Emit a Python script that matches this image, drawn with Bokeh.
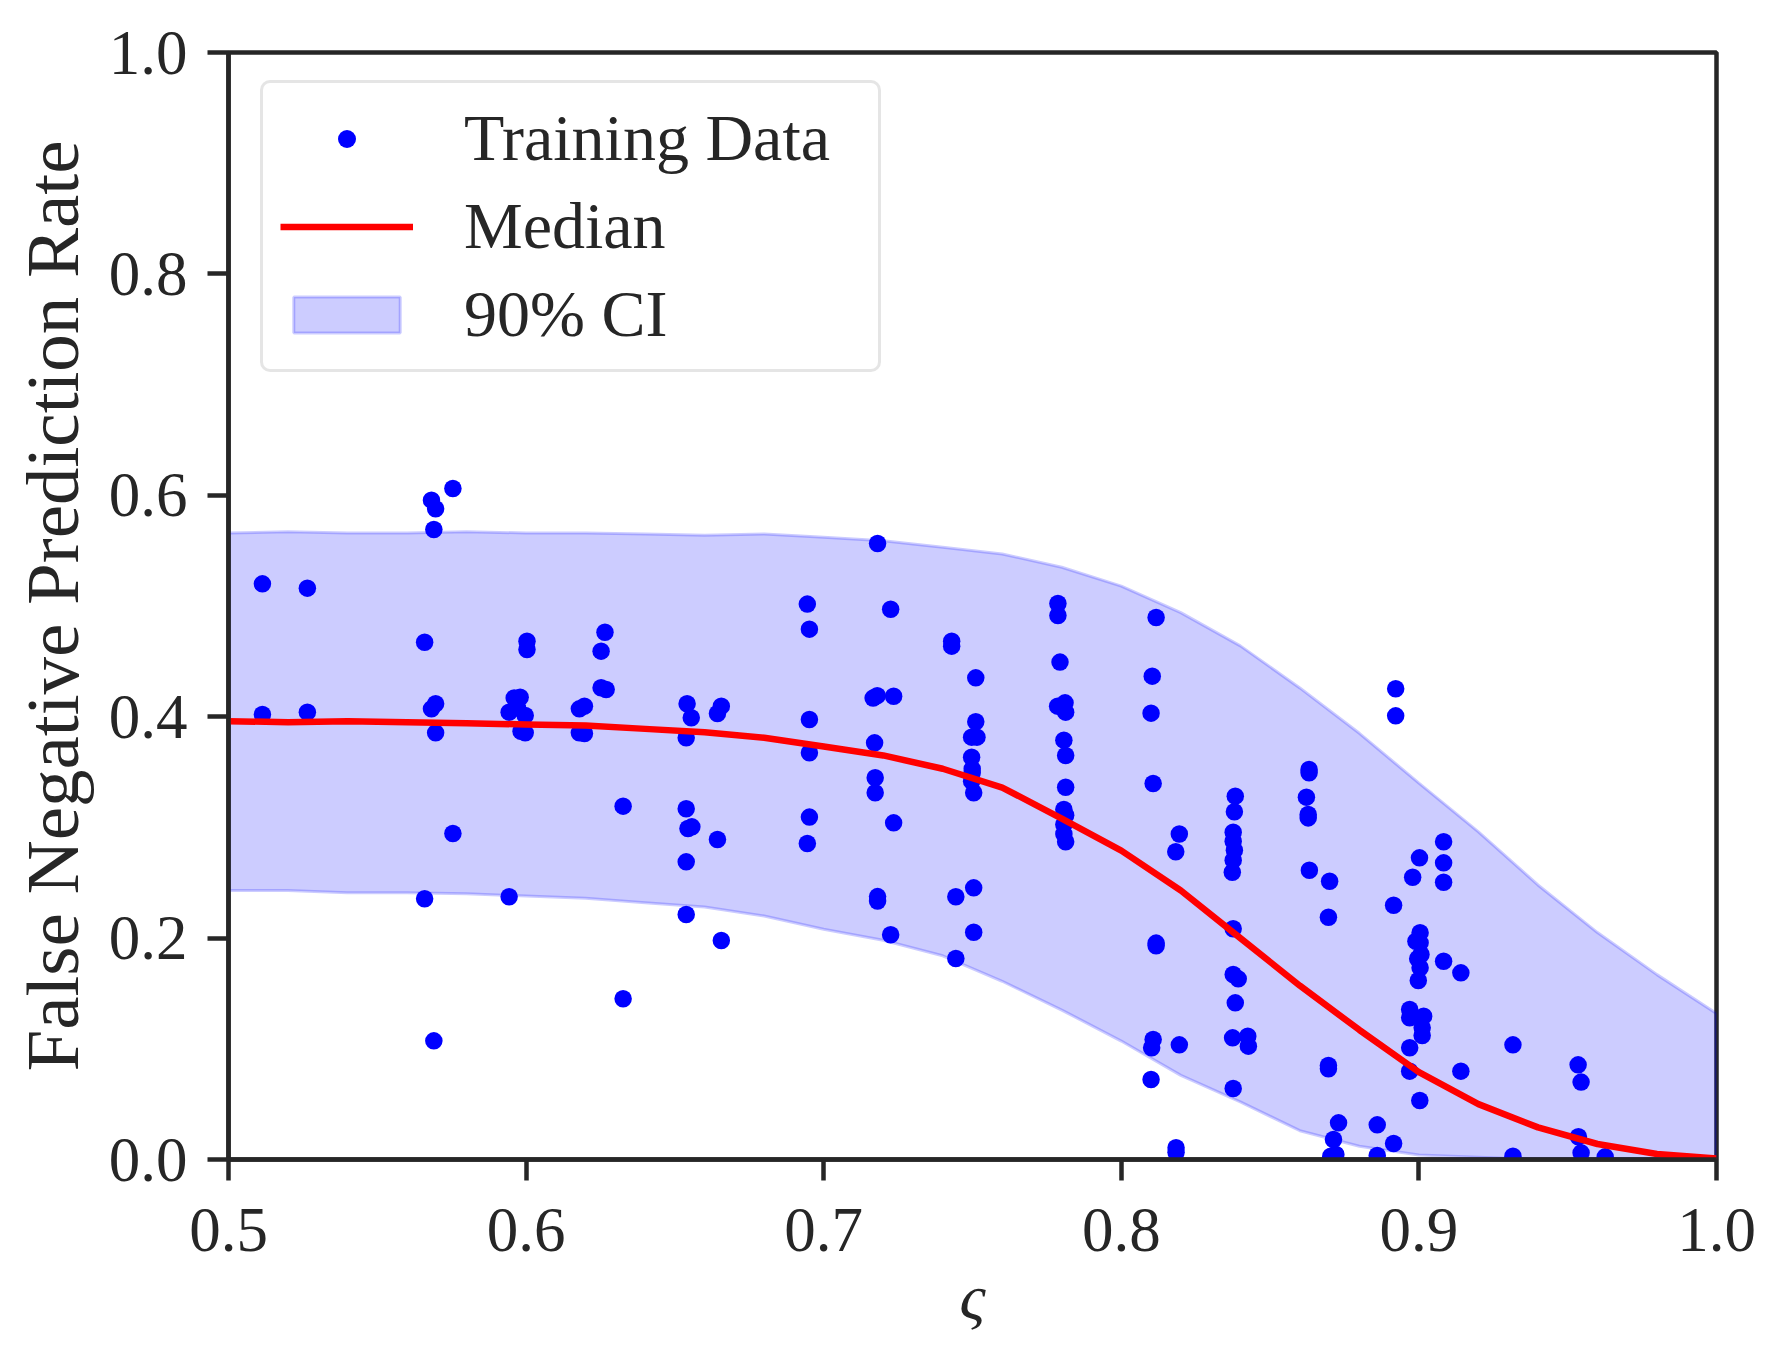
from bokeh.plotting import figure
from bokeh.models import Range1d, FixedTicker, Legend, LegendItem
from bokeh.embed import file_html
from bokeh.resources import INLINE

FONT = "Liberation Serif"
INK = "#262626"

# ---- ticks ----
x_ticks = [0.5, 0.6, 0.7, 0.8, 0.9, 1.0]
x_tick_labels = ["0.5", "0.6", "0.7", "0.8", "0.9", "1.0"]
y_ticks = [0.0, 0.2, 0.4, 0.6, 0.8, 1.0]
y_tick_labels = ["0.0", "0.2", "0.4", "0.6", "0.8", "1.0"]

# ---- model curves ----
grid_x = [0.50, 0.52, 0.54, 0.56, 0.58, 0.60, 0.62, 0.64, 0.66, 0.68, 0.70, 0.72, 0.74,
          0.76, 0.78, 0.80, 0.82, 0.84, 0.86, 0.88, 0.90, 0.92, 0.94, 0.96, 0.98, 1.00]
median_y = [0.396, 0.395, 0.396, 0.395, 0.394, 0.393, 0.392, 0.389, 0.386, 0.381, 0.373, 0.365, 0.353,
            0.336, 0.308, 0.279, 0.243, 0.200, 0.157, 0.117, 0.079, 0.050, 0.029, 0.014, 0.005, 0.001]
ci_lower = [0.243, 0.243, 0.241, 0.241, 0.240, 0.238, 0.236, 0.232, 0.228, 0.220, 0.208, 0.198, 0.184,
            0.161, 0.135, 0.107, 0.076, 0.052, 0.026, 0.012, 0.004, 0.002, 0.0, 0.0, 0.0, 0.0]
ci_upper = [0.566, 0.567, 0.566, 0.566, 0.567, 0.566, 0.566, 0.565, 0.564, 0.565, 0.562, 0.559, 0.553,
            0.547, 0.535, 0.518, 0.494, 0.464, 0.426, 0.385, 0.340, 0.296, 0.248, 0.205, 0.167, 0.132]

# ---- training data ----
train_x = [
    0.5114, 0.5265, 0.5114, 0.5265, 0.5659, 0.5659, 0.5682, 0.5696, 0.5690, 0.5754,
    0.5696, 0.5682, 0.5696, 0.5754, 0.5690, 0.5943, 0.5960, 0.5980, 0.5943, 0.5971,
    0.5997, 0.5983, 0.5997, 0.6003, 0.6003, 0.6196, 0.6179, 0.6179, 0.6196, 0.6265,
    0.6252, 0.6252, 0.6269, 0.6326, 0.6326, 0.6541, 0.6555, 0.6538, 0.6538, 0.6544,
    0.6557, 0.6538, 0.6538, 0.6643, 0.6656, 0.6643, 0.6656,
    0.6945, 0.6952, 0.6952, 0.6952, 0.6952, 0.6945, 0.7181, 0.7166, 0.7180, 0.7171,
    0.7173, 0.7173, 0.7181, 0.7181, 0.7225, 0.7235, 0.7235, 0.7225, 0.7430, 0.7430,
    0.7444, 0.7444, 0.7511, 0.7511, 0.7497, 0.7515, 0.7497, 0.7499, 0.7499, 0.7497,
    0.7504, 0.7504, 0.7504, 0.7787, 0.7787, 0.7794, 0.7786, 0.7811, 0.7813, 0.7807,
    0.7813, 0.7813, 0.7807, 0.7813, 0.7807, 0.7807, 0.7813, 0.8117, 0.8104, 0.8100,
    0.8107, 0.8195, 0.8183, 0.8117, 0.8117, 0.8107, 0.8102, 0.8195, 0.8100, 0.8184,
    0.8184,
    0.8383, 0.8380, 0.8376, 0.8376, 0.8380, 0.8376, 0.8373, 0.8376, 0.8376, 0.8393,
    0.8383, 0.8374, 0.8425, 0.8427, 0.8376, 0.8631, 0.8631, 0.8622, 0.8628, 0.8628,
    0.8632, 0.8700, 0.8696, 0.8696, 0.8696, 0.8730, 0.8713, 0.8721, 0.8704, 0.8860,
    0.8860, 0.8915, 0.8915, 0.8922, 0.8922, 0.8979, 0.9002, 0.9004, 0.8990, 0.9004,
    0.9007, 0.8996, 0.9004, 0.8998, 0.8969, 0.8969, 0.9016, 0.9011, 0.9011, 0.8969,
    0.8969, 0.9003, 0.9083, 0.9083, 0.9083, 0.9083, 0.9141, 0.9141, 0.9316, 0.9316,
    0.9535, 0.9545, 0.9536, 0.9545, 0.9626,
]
train_y = [
    0.5200, 0.5161, 0.4020, 0.4041, 0.4673, 0.2355, 0.5956, 0.5878, 0.5691, 0.6061,
    0.4117, 0.4071, 0.3854, 0.2945, 0.1072, 0.2373, 0.4170, 0.4176, 0.4041, 0.4080,
    0.4011, 0.3869, 0.3854, 0.4682, 0.4607, 0.4095, 0.4071, 0.3854, 0.3848, 0.4763,
    0.4592, 0.4261, 0.4246, 0.3192, 0.1452, 0.4117, 0.3990, 0.3810, 0.3168, 0.2990,
    0.3005, 0.2689, 0.2213, 0.4029, 0.4095, 0.2891, 0.1978,
    0.5017, 0.4791, 0.3975, 0.3674, 0.3093, 0.2855, 0.5565, 0.4168, 0.4190, 0.3764,
    0.3448, 0.3313, 0.2375, 0.2335, 0.4971, 0.4185, 0.3041, 0.2030, 0.4682, 0.4637,
    0.2373, 0.1816, 0.4351, 0.3954, 0.3815, 0.3815, 0.3634, 0.3529, 0.3493, 0.3418,
    0.3313, 0.2454, 0.2053, 0.5023, 0.4914, 0.4493, 0.4095, 0.4125, 0.4041, 0.3788,
    0.3650, 0.3363, 0.3162, 0.3110, 0.3026, 0.2940, 0.2870, 0.4896, 0.4366, 0.4032,
    0.3397, 0.2940, 0.2780, 0.1955, 0.1930, 0.1084, 0.1009, 0.1036, 0.0723, 0.0106,
    0.0066,
    0.3282, 0.3141, 0.2957, 0.2876, 0.2794, 0.2704, 0.2595, 0.2084, 0.1671, 0.1632,
    0.1415, 0.1099, 0.1114, 0.1024, 0.0641, 0.3523, 0.3493, 0.3273, 0.3116, 0.3086,
    0.2613, 0.2514, 0.2188, 0.0850, 0.0820, 0.0331, 0.0181, 0.0045, 0.0030, 0.0313,
    0.0036, 0.0145, 0.2297, 0.4252, 0.4008, 0.2550, 0.2725, 0.2048, 0.1972, 0.1957,
    0.1852, 0.1813, 0.1732, 0.1617, 0.1355, 0.1280, 0.1295, 0.1190, 0.1120, 0.1009,
    0.0798, 0.0533, 0.2870, 0.2680, 0.2505, 0.1791, 0.1686, 0.0798, 0.1036, 0.0030,
    0.0855, 0.0699, 0.0205, 0.0060, 0.0024,
]

p = figure(
    frame_width=1488, frame_height=1107,
    x_range=Range1d(0.5, 1.0), y_range=Range1d(0.0, 1.0),
    output_backend="svg", toolbar_location=None,
    min_border_left=228, min_border_top=52, min_border_right=50, min_border_bottom=180,
    background_fill_color="white", border_fill_color="white",
)
p.xgrid.visible = False
p.ygrid.visible = False
p.outline_line_color = INK
p.outline_line_width = 4.5

# CI band as polygon (fill + faint edge)
band_xs = grid_x + grid_x[::-1]
band_ys = ci_upper + ci_lower[::-1]
band = p.patch(band_xs, band_ys, fill_color="blue", fill_alpha=0.2,
               line_color="blue", line_alpha=0.2, line_width=3)

dots = p.scatter(train_x, train_y, size=17.5, fill_color="blue", line_color="blue", line_width=0)
med = p.line(grid_x, median_y, line_color="red", line_width=6.5)

# axes
for ax in (p.xaxis[0], p.yaxis[0]):
    ax.axis_line_color = INK
    ax.axis_line_width = 4.5
    ax.major_tick_line_color = INK
    ax.major_tick_line_width = 4.5
    ax.major_tick_out = 21
    ax.major_tick_in = 0
    ax.minor_tick_line_color = None
    ax.major_label_text_font = FONT
    ax.major_label_text_font_size = "63px"
    ax.major_label_text_color = INK
    ax.axis_label_text_font = FONT
    ax.axis_label_text_font_size = "75px"
    ax.axis_label_text_color = INK
    ax.axis_label_text_font_style = "normal"

p.xaxis[0].ticker = FixedTicker(ticks=x_ticks)
p.xaxis[0].major_label_overrides = dict(zip(x_ticks, x_tick_labels))
p.yaxis[0].ticker = FixedTicker(ticks=y_ticks)
p.yaxis[0].major_label_overrides = dict(zip(y_ticks, y_tick_labels))
p.xaxis[0].major_label_standoff = 28
p.yaxis[0].major_label_standoff = 20
p.xaxis[0].axis_label = "\u03c2"
p.xaxis[0].axis_label_text_font_style = "italic"
p.xaxis[0].axis_label_text_font_size = "64px"
p.xaxis[0].axis_label_standoff = 8
p.yaxis[0].axis_label = "False Negative Prediction Rate"
p.yaxis[0].axis_label_standoff = 12

legend = Legend(
    items=[
        LegendItem(label="Training Data", renderers=[dots]),
        LegendItem(label="Median", renderers=[med]),
        LegendItem(label="90% CI", renderers=[band]),
    ],
    location=(32, 787),
)
legend.label_text_font = FONT
legend.label_text_font_size = "66px"
legend.label_text_color = INK
legend.glyph_width = 133
legend.glyph_height = 45
legend.label_height = 73
legend.label_width = 397
legend.label_standoff = 51
legend.spacing = 12
legend.padding = 17
legend.margin = 0
legend.border_line_color = "#cccccc"
legend.border_line_width = 3.5
legend.background_fill_color = "white"
legend.background_fill_alpha = 0.8
try:
    legend.border_radius = 10
except Exception:
    pass
p.add_layout(legend)

open("out.html", "w").write(file_html(p, INLINE))
